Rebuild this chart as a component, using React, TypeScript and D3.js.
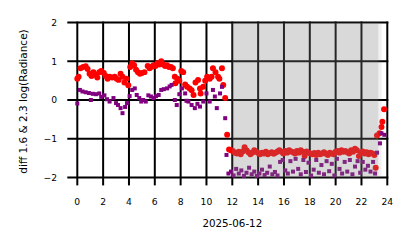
import React from "react";
import * as d3 from "d3";

const xTicks = [0, 2, 4, 6, 8, 10, 12, 14, 16, 18, 20, 22, 24];
const yTicks = [-2, -1, 0, 1, 2];
const xLabel = "2025-06-12";
const yLabel = "diff 1.6 & 2.3  log(Radiance)";
const shadeStart = 12;
const shadeEnd = 23.3;
const shadeFadeEnd = 23.55;

const redHours = [
  0.0, 0.1, 0.25, 0.45, 0.65, 0.8, 0.95, 1.1, 1.25, 1.4, 1.55, 1.7, 1.85, 2.05, 2.2, 2.35, 2.5, 2.7, 2.9, 3.05,
  3.2, 3.35, 3.5, 3.65, 3.8, 3.95, 4.1, 4.25, 4.4, 4.55, 4.7, 4.85, 5.0, 5.2, 5.45, 5.6, 5.75, 5.9, 6.05, 6.2,
  6.35, 6.5, 6.65, 6.8, 6.95, 7.1, 7.25, 7.4, 7.55, 7.6, 7.75, 7.9, 8.05, 8.2, 8.35, 8.5, 8.7, 8.85, 9.0, 9.15,
  9.35, 9.5, 9.55, 9.75, 9.9, 10.05, 10.25, 10.4, 10.5, 10.7, 10.9, 11.0, 11.2, 11.3, 11.45, 11.6, 11.75,
  11.9, 12.05, 12.2, 12.35, 12.5, 12.65, 12.8, 12.95, 13.1, 13.25, 13.4, 13.55, 13.7, 13.85, 14.0, 14.15, 14.3,
  14.45, 14.6, 14.75, 14.9, 15.05, 15.2, 15.35, 15.5, 15.65, 15.8, 15.95, 16.1, 16.25, 16.4, 16.55, 16.7, 16.85,
  17.0, 17.15, 17.3, 17.45, 17.6, 17.75, 17.9, 18.05, 18.2, 18.35, 18.5, 18.65, 18.8, 18.95, 19.1, 19.25, 19.4,
  19.55, 19.7, 19.85, 20.0, 20.15, 20.3, 20.45, 20.6, 20.75, 20.9, 21.05, 21.2, 21.35, 21.5, 21.65, 21.8, 21.95,
  22.1, 22.25, 22.4, 22.55, 22.7, 22.85, 23.0, 23.1, 23.2, 23.4, 23.55, 23.62, 23.75,
];
const redValues = [
  0.55, 0.6, 0.82, 0.85, 0.87, 0.8, 0.68, 0.62, 0.72, 0.65, 0.58, 0.72, 0.75, 0.7, 0.62, 0.55, 0.6, 0.58, 0.6, 0.55,
  0.52, 0.68, 0.6, 0.45, 0.55, 0.38, 0.85, 0.95, 0.9, 0.78, 0.72, 0.68, 0.7, 0.72, 0.88, 0.82, 0.86, 0.9, 0.88, 0.95,
  0.92, 1.0, 0.92, 0.88, 0.9, 0.85, 0.85, 0.82, 0.6, 0.43, 0.55, 0.5, 0.75, 0.72, 0.4, 0.34, 0.3, 0.25, 0.13, 0.45,
  0.52, 0.3, 0.17, 0.34, 0.5, 0.6, 0.55, 0.6, 0.82, 0.72, 0.6, 0.55, 0.82, 0.39, 0.05, -0.9, -1.28,
  -1.3, -1.32, -1.36, -1.38, -1.34, -1.4, -1.33, -1.22, -1.3, -1.35, -1.4, -1.36, -1.3, -1.34, -1.37, -1.4, -1.36,
  -1.38, -1.34, -1.4, -1.37, -1.35, -1.39, -1.36, -1.33, -1.3, -1.34, -1.38, -1.32, -1.36, -1.3, -1.33, -1.35, -1.38,
  -1.32, -1.36, -1.3, -1.34, -1.45, -1.33, -1.36, -1.38, -1.4, -1.37, -1.42, -1.36, -1.4, -1.38, -1.35, -1.39, -1.42,
  -1.36, -1.38, -1.4, -1.34, -1.32, -1.36, -1.3, -1.34, -1.32, -1.35, -1.38, -1.3, -1.34, -1.26, -1.3, -1.45, -1.36,
  -1.33, -1.38, -1.35, -1.4, -1.36, -1.38, -1.42, -1.75, -0.92, -0.86, -0.7, -0.56, -0.24,
];

const purpleHours = [
  0.0, 0.2, 0.4, 0.65, 0.9, 1.05, 1.2, 1.45, 1.7, 1.85, 2.1, 2.3, 2.5, 2.8, 3.0, 3.15, 3.35, 3.5, 3.7, 3.85,
  4.05, 4.25, 4.45, 4.6, 4.8, 4.95, 5.1, 5.3, 5.5, 5.7, 5.9, 6.1, 6.3, 6.5, 6.7, 6.95, 7.15, 7.3, 7.55, 7.7,
  7.9, 8.1, 8.35, 8.45, 8.6, 8.85, 9.1, 9.3, 9.5, 9.75, 10.0, 10.25, 10.5, 10.65, 10.8, 11.05, 11.2, 11.45, 11.55, 11.7,
  11.9, 12.1, 12.3, 12.5, 12.7, 12.9, 13.1, 13.3, 13.5, 13.7, 13.9, 14.1, 14.3, 14.5, 14.7, 14.9, 15.1, 15.3,
  15.5, 15.7, 15.9, 16.1, 16.3, 16.5, 16.7, 16.9, 17.1, 17.3, 17.5, 17.7, 17.9, 18.1, 18.3, 18.5, 18.7, 18.9,
  19.1, 19.3, 19.5, 19.7, 19.9, 20.1, 20.3, 20.5, 20.7, 20.9, 21.1, 21.3, 21.5, 21.7, 21.9, 22.1, 22.3, 22.5,
  22.7, 22.9, 23.05, 23.2, 23.43, 23.55, 23.77,
];
const purpleValues = [
  -0.09, 0.26, 0.22, 0.2, 0.18, 0.0, 0.16, 0.15, 0.17, 0.08, 0.12, 0.02, -0.04, 0.05, -0.08, -0.13, -0.21, -0.34, -0.18, -0.08,
  0.1, 0.26, 0.3, 0.13, 0.05, -0.04, 0.0, -0.04, 0.12, 0.09, 0.05, 0.1, 0.13, 0.26, 0.28, 0.3, 0.35, 0.39, 0.0, -0.13,
  0.15, 0.3, 0.17, -0.02, -0.04, -0.13, -0.21, -0.1, -0.17, -0.04, 0.17, -0.04, 0.26, 0.09, -0.21, 0.17, 0.34, -0.47, -1.42, -1.9,
  -1.85, -1.95, -1.78, -1.9, -1.82, -1.96, -1.88, -1.75, -1.92, -1.85, -1.96, -1.9, -1.8, -1.94, -1.88, -1.72, -1.92, -1.86,
  -1.95, -1.6, -1.55, -1.82, -1.9, -1.58, -1.85, -1.52, -1.78, -1.92, -1.55, -1.86, -1.62, -1.95, -1.8, -1.55, -1.88, -1.68,
  -1.92, -1.58, -1.84, -1.65, -1.95, -1.52, -1.78, -1.9, -1.6, -1.85, -1.55, -1.92, -1.72, -1.58, -1.88, -1.6, -1.8, -1.7,
  -1.85, -1.6, -1.9, -1.36, -1.12, -0.86, -0.9,
];

export default function App() {
  const width = 414;
  const height = 248;
  const x = d3.scaleLinear().domain([0, 24]).range([77.3, 387.3]);
  const y = d3.scaleLinear().domain([-2, 2]).range([177.4, 22.6]);
  const font = "DejaVu Sans, sans-serif";
  const red = redHours.map((h, i) => [h, redValues[i]]);
  const purple = purpleHours.map((h, i) => [h, purpleValues[i]]);
  const marker = d3.symbol().type(d3.symbolCircle).size(28)();
  const [x0, x1] = x.range();
  const [yb, yt] = y.range();
  return (
    <svg width={width} height={height} style={{ display: "block", position: "absolute", left: 0, top: 0 }}>
      <rect width={width} height={height} fill="#fff" />
      {yTicks.map((t) => (
        <line key={"gy" + t} x1={x0 - 10} x2={x1 + 1} y1={y(t)} y2={y(t)} stroke="#000" strokeWidth={2} />
      ))}
      {xTicks.map((t) => (
        <line key={"gx" + t} x1={x(t)} x2={x(t)} y1={yt - 1} y2={yb + 8} stroke="#000" strokeWidth={2} />
      ))}
      {red.map(([h, v], i) => (
        <path key={"r" + i} d={marker} transform={`translate(${x(h)},${y(v)})`} fill="#ff0000" />
      ))}
      {purple.map(([h, v], i) => (
        <rect key={"p" + i} x={x(h) - 2} y={y(v) - 2} width={4} height={4} fill="#800080" />
      ))}
      <rect x={x(shadeStart)} y={yt} width={x(shadeEnd) - x(shadeStart)} height={yb - yt} fill="#808080" opacity={0.3} />
      <rect x={x(shadeEnd)} y={yt} width={x(shadeFadeEnd) - x(shadeEnd)} height={yb - yt} fill="#808080" opacity={0.12} />
      {xTicks.map((t) => (
        <text key={"xl" + t} x={x(t)} y={204.5} textAnchor="middle" fontFamily={font} fontSize={9.2} fill="#000">
          {t}
        </text>
      ))}
      {yTicks.map((t) => (
        <text key={"yl" + t} x={57} y={y(t) + 3.4} textAnchor="end" fontFamily={font} fontSize={9.2} fill="#000">
          {t < 0 ? "\u2212" + Math.abs(t) : t}
        </text>
      ))}
      <text x={(x0 + x1) / 2} y={226.5} textAnchor="middle" fontFamily={font} fontSize={10.3} fill="#000">
        {xLabel}
      </text>
      <text
        transform={`translate(27,${(yt + yb) / 2 + 1.5}) rotate(-90)`}
        textAnchor="middle"
        fontFamily={font}
        fontSize={10.5}
        fill="#000"
      >
        {yLabel}
      </text>
    </svg>
  );
}
